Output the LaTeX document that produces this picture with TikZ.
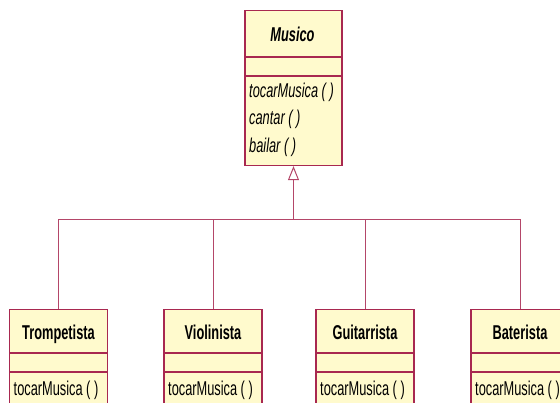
\documentclass[tikz,border=0pt]{standalone}
\usepackage{fontspec}
\setmainfont{Liberation Sans}[FakeStretch=0.64]
\usetikzlibrary{arrows.meta}
\definecolor{umlfill}{RGB}{255,250,205}
\definecolor{umlline}{RGB}{168,40,80}
\definecolor{umlconn}{RGB}{180,70,105}
\begin{document}
\begin{tikzpicture}[x=1pt,y=-1pt,
  cls/.style={draw=umlline,fill=umlfill,line width=1.1pt,rectangle,minimum width=98pt,anchor=north,inner sep=0pt},
  divl/.style={draw=umlline,line width=1.1pt},
  conn/.style={draw=umlconn,line width=1pt},
  txt/.style={font=\fontsize{20}{24}\selectfont,inner sep=0pt,anchor=base},
  gen/.style={-{Triangle[open,length=14pt,width=11pt,line width=1pt]}}]
\useasboundingbox (0,0) rectangle (560,403);
\clip (0,0) rectangle (560,403);
% Musico
\node[cls,minimum height=155pt,minimum width=97pt] (musico) at (293.5,10) {};
\draw[divl] (245,57) -- (342,57);
\draw[divl] (245,76) -- (342,76);
\node[txt,font=\fontsize{20}{24}\selectfont\bfseries\itshape] (mtitle) at (292.5,42) {Musico};
\node[txt,anchor=base west,font=\fontsize{20}{24}\selectfont\itshape] (m1) at (249,97.5) {tocarMusica ( )};
\node[txt,anchor=base west,font=\fontsize{20}{24}\selectfont\itshape] (m2) at (249,125) {cantar ( )};
\node[txt,anchor=base west,font=\fontsize{20}{24}\selectfont\itshape] (m3) at (249,152.5) {bailar ( )};
% subclasses
\foreach \n/\x/\t in {trom/58.5/Trompetista, viol/213/Violinista, guit/365/Guitarrista, bat/520/Baterista}{
  \node[cls,minimum height=120pt] (\n) at (\x,309) {};
  \draw[divl] (\x-49,353) -- (\x+49,353);
  \draw[divl] (\x-49,372) -- (\x+49,372);
  \node[txt,font=\fontsize{20}{24}\selectfont\bfseries] (\n-t) at (\x,340) {\t};
  \node[txt,anchor=base west] (\n-m) at (\x-45,396) {tocarMusica ( )};
}
% connectors
\coordinate (j) at (293.5,220);
\draw[conn,gen] (j) -- (musico.south);
\draw[conn] (trom.north) |- (j);
\draw[conn] (viol.north) |- (j);
\draw[conn] (guit.north) |- (j);
\draw[conn] (bat.north) |- (j);
\end{tikzpicture}
\end{document}
